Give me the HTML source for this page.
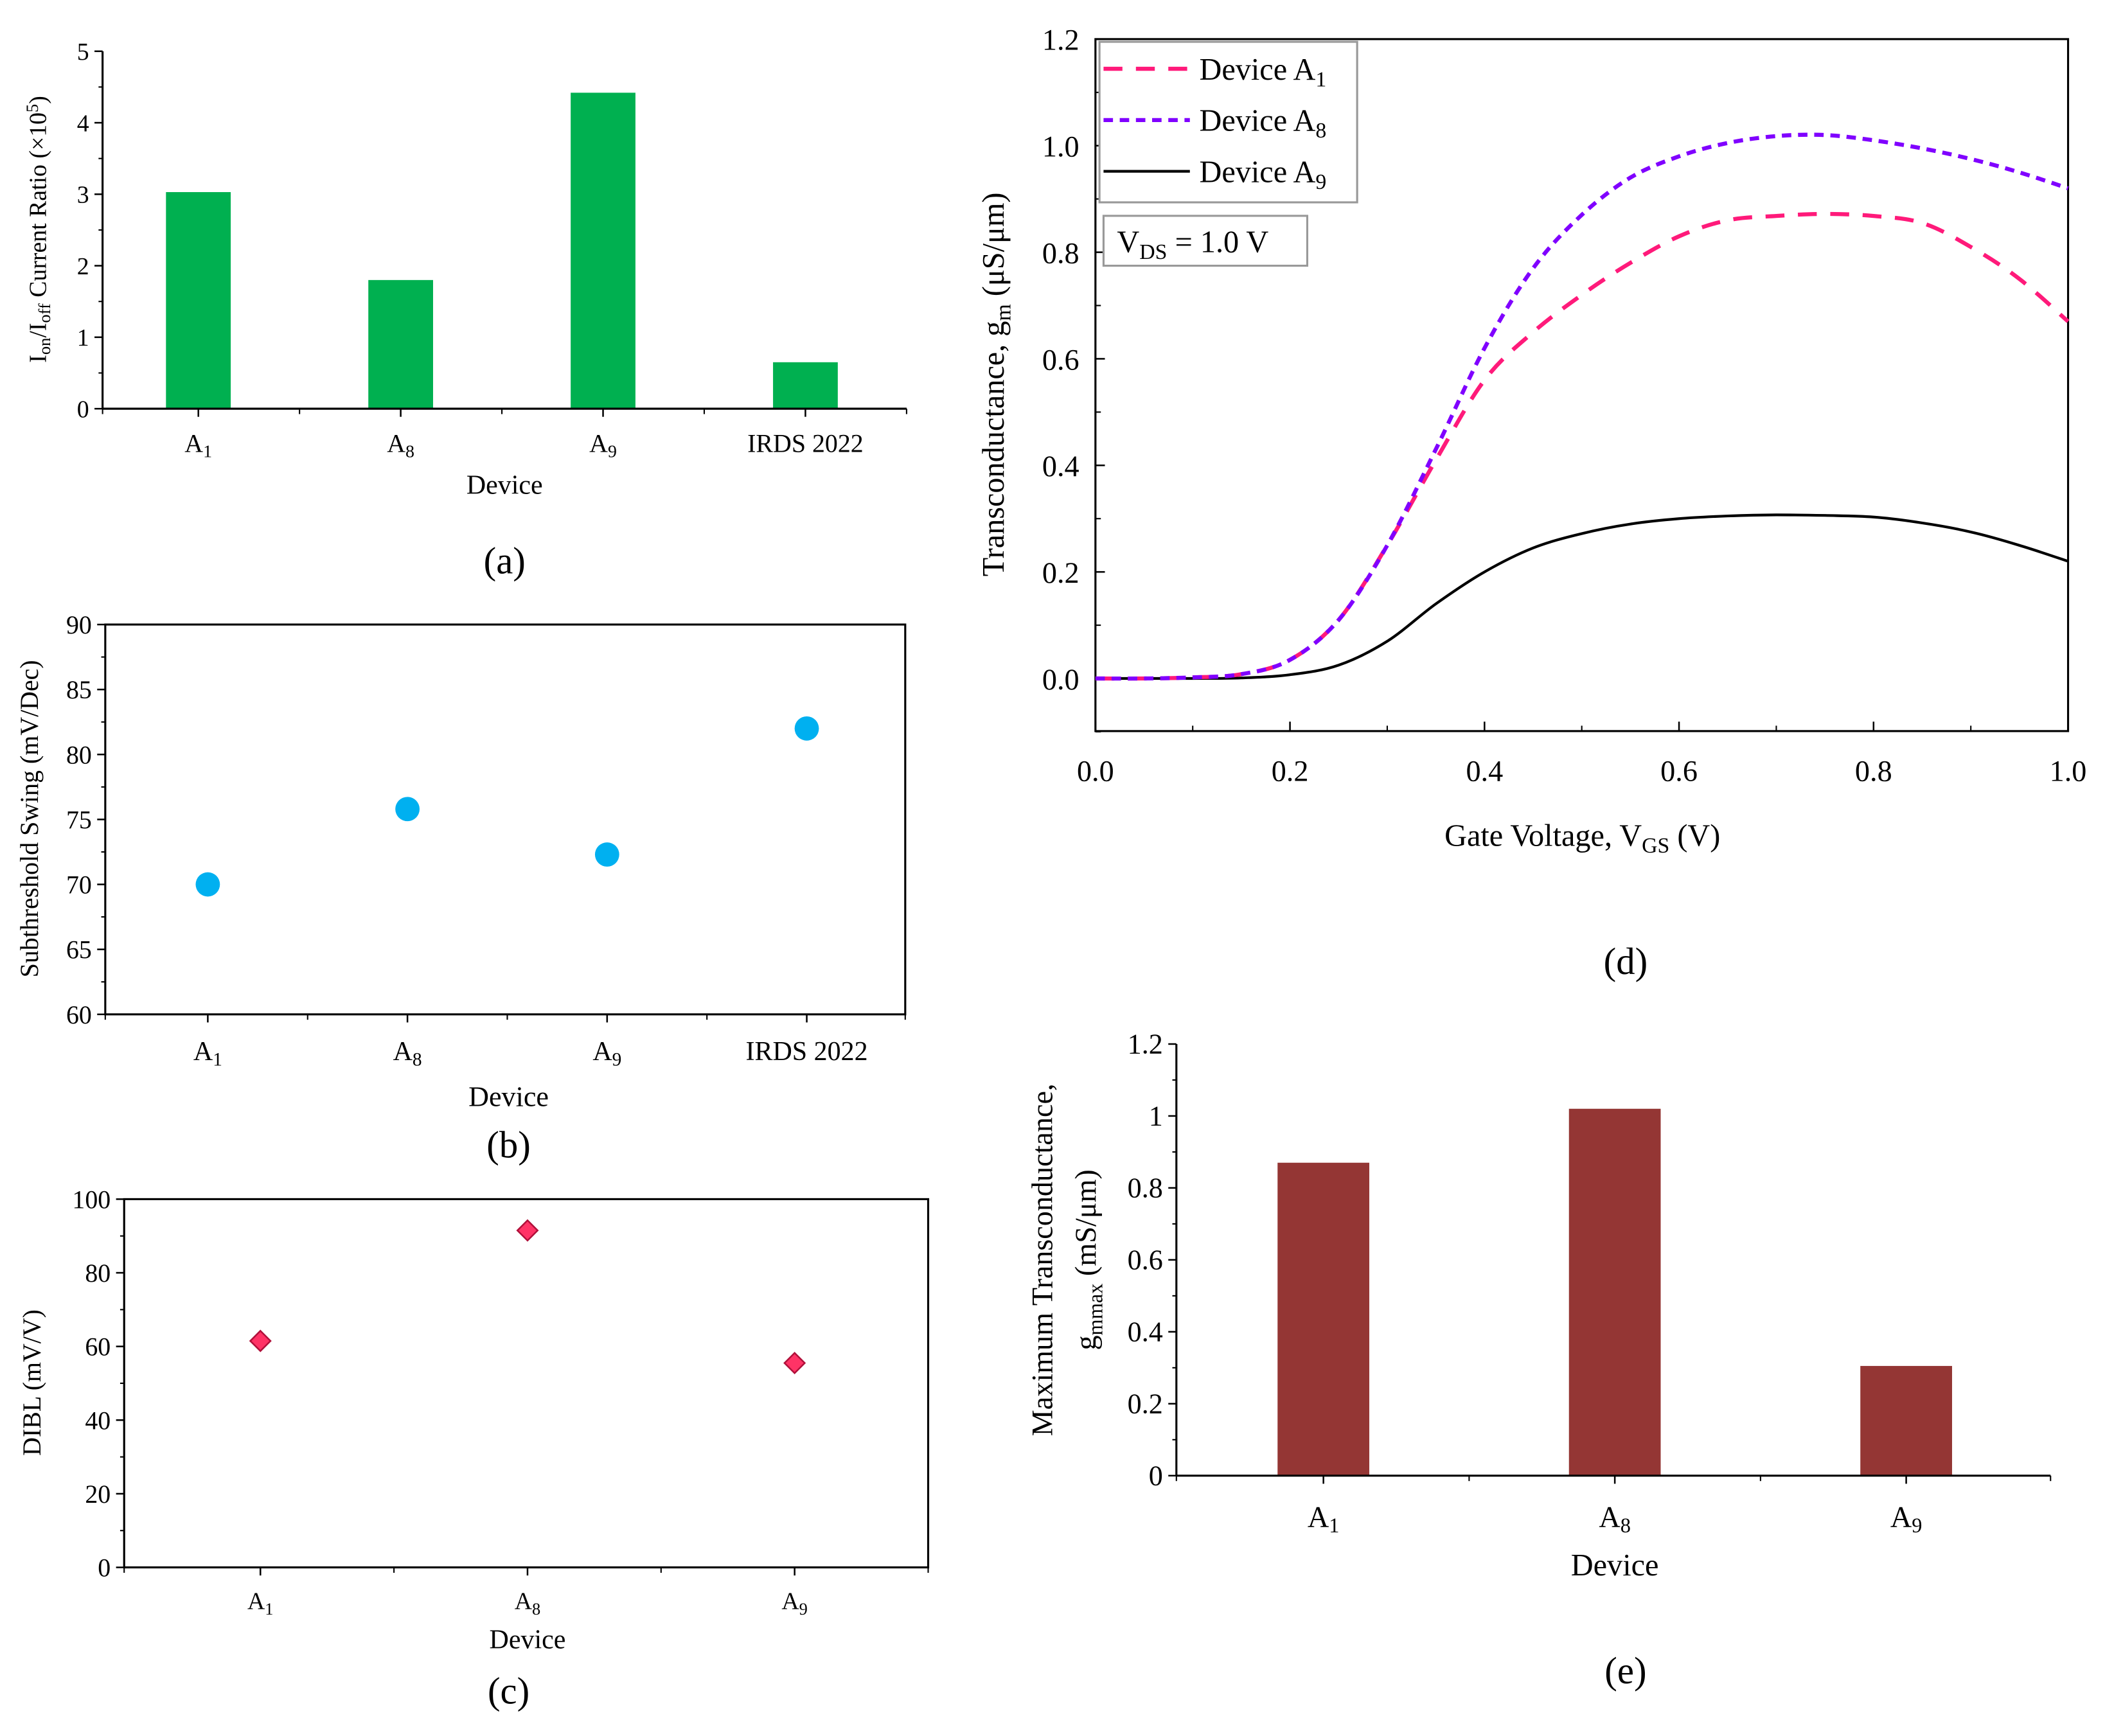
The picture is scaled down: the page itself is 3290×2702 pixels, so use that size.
<!DOCTYPE html>
<html><head><meta charset="utf-8"><style>
html,body{margin:0;padding:0;background:#fff}
svg{display:block;font-family:"Liberation Serif",serif}
</style></head><body>
<svg id="fig" xmlns="http://www.w3.org/2000/svg" width="3290" height="2702" viewBox="0 0 1567 1287">
<rect width="1567" height="1287" fill="#fff"/>
<g id="pa"></g>
<g id="pb"></g>
<g id="pc"></g>
<g id="pd"></g>
<g id="pe"></g>
</svg>
<script>
// ---- data ----
const devicesABC = ["A1","A8","A9","IRDS 2022"];
const ratioValues = [3.03, 1.8, 4.42, 0.65];
const ssValues = [70, 75.8, 72.3, 82];
const diblDevices = ["A1","A8","A9"];
const diblValues = [61.5, 91.5, 55.5];
const vgs = [0,0.05,0.1,0.15,0.2,0.25,0.3,0.35,0.4,0.45,0.5,0.55,0.6,0.65,0.7,0.75,0.8,0.85,0.9,0.95,1.0];
const gmA1 = [0,0,0.002,0.008,0.035,0.11,0.25,0.41,0.56,0.65,0.72,0.78,0.83,0.86,0.868,0.872,0.868,0.855,0.81,0.75,0.67];
const gmA8 = [0,0,0.002,0.008,0.035,0.11,0.25,0.43,0.62,0.77,0.87,0.94,0.98,1.005,1.018,1.02,1.01,0.995,0.975,0.95,0.92];
const gmA9 = [0,0,0,0.001,0.007,0.025,0.07,0.14,0.2,0.245,0.272,0.29,0.3,0.305,0.307,0.306,0.303,0.292,0.275,0.25,0.22];
const gmmaxDevices = ["A1","A8","A9"];
const gmmaxValues = [0.87, 1.02, 0.305];
const ticksA = [0,1,2,3,4,5];
const ticksB = [60,65,70,75,80,85,90];
const ticksC = [0,20,40,60,80,100];
const ticksDy = [0,0.2,0.4,0.6,0.8,1.0,1.2];
const ticksDx = [0,0.2,0.4,0.6,0.8,1.0];
const ticksE = [0,0.2,0.4,0.6,0.8,1,1.2];

const NS="http://www.w3.org/2000/svg";
function mk(parent,tag,attrs,text){const e=document.createElementNS(NS,tag);for(const k in attrs)e.setAttribute(k,attrs[k]);if(text!==undefined)e.innerHTML=text;parent.appendChild(e);return e;}
function lin(d0,d1,r0,r1){return v=>r0+(v-d0)*(r1-r0)/(d1-d0);}
function devLabel(s){const m=s.match(/^A(\d)$/);return m?`A<tspan font-size="0.7em" dy="4">${m[1]}</tspan>`:s;}
function smooth(pts){let d='M'+pts[0][0].toFixed(1)+','+pts[0][1].toFixed(1);
  for(let i=0;i<pts.length-1;i++){const p0=pts[Math.max(0,i-1)],p1=pts[i],p2=pts[i+1],p3=pts[Math.min(pts.length-1,i+2)];
    const c1=[p1[0]+(p2[0]-p0[0])/6,p1[1]+(p2[1]-p0[1])/6],c2=[p2[0]-(p3[0]-p1[0])/6,p2[1]-(p3[1]-p1[1])/6];
    d+=` C${c1[0].toFixed(1)},${c1[1].toFixed(1)} ${c2[0].toFixed(1)},${c2[1].toFixed(1)} ${p2[0].toFixed(1)},${p2[1].toFixed(1)}`;}
  return d;}

function frame(g,x0,x1,y0,y1,full){
  if(full){const r=mk(g,'rect',{x:x0,y:y0,width:x1-x0,height:y1-y0,fill:'none',stroke:'#000','stroke-width':1.5});
  }
  else{mk(g,'line',{x1:x0,y1:y0,x2:x0,y2:y1,stroke:'#000','stroke-width':1.5});
  mk(g,'line',{x1:x0,y1:y1,x2:x1,y2:y1,stroke:'#000','stroke-width':1.5});}
}
function yTicks(g,ticks,y,x0,fs,fmt,minor){
  ticks.forEach((t,i)=>{const yy=y(t);mk(g,'line',{x1:x0-6,y1:yy,x2:x0,y2:yy,stroke:'#000','stroke-width':1.2});
    const tx=mk(g,'text',{x:x0-10,y:yy+fs*0.35,'font-size':fs,'text-anchor':'end'},fmt(t));
    
    if(minor&&i<ticks.length-1){const ym=y((t+ticks[i+1])/2);mk(g,'line',{x1:x0-3,y1:ym,x2:x0,y2:ym,stroke:'#000','stroke-width':1});}
  });
}
function xCat(g,cats,xs,y1,ly,fs,x0,x1){
  cats.forEach((c,i)=>{mk(g,'line',{x1:xs[i],y1:y1,x2:xs[i],y2:y1+6,stroke:'#000','stroke-width':1.2});
    const t=mk(g,'text',{x:xs[i],y:ly,'font-size':fs,'text-anchor':'middle'},devLabel(c));
    
    if(i<cats.length-1){const xm=(xs[i]+xs[i+1])/2;mk(g,'line',{x1:xm,y1:y1,x2:xm,y2:y1+4,stroke:'#000','stroke-width':1});}
  });
  mk(g,'line',{x1:x0,y1:y1,x2:x0,y2:y1+4,stroke:'#000','stroke-width':1});
  mk(g,'line',{x1:x1,y1:y1,x2:x1,y2:y1+4,stroke:'#000','stroke-width':1});
}
function txt(g,name,x,y,fs,s,rot){const a={x:x,y:y,'font-size':fs,'text-anchor':'middle'};if(rot)a.transform=`rotate(-90 ${x} ${y})`;
  const t=mk(g,'text',a,s);return t;}

// ---- panel a ----
(function(){const g=document.getElementById('pa');const x0=76,x1=672,y0=38,y1=303;
  const y=lin(0,5,y1,y0);const xs=devicesABC.map((d,i)=>147+i*150);
  ratioValues.forEach((v,i)=>{const r=mk(g,'rect',{x:xs[i]-24,y:y(v),width:48,height:y1-y(v),fill:'#00B050'});
    });
  frame(g,x0,x1,y0,y1,false);
  yTicks(g,ticksA,y,x0,18,t=>t,true);
  xCat(g,devicesABC,xs,y1,335,19,x0,x1);
  txt(g,'x-axis-title',374,366,20,'Device');
  txt(g,'y-axis-title',34,170,18,'I<tspan font-size="0.7em" dy="3">on</tspan><tspan dy="-3">/I</tspan><tspan font-size="0.7em" dy="3">off</tspan><tspan dy="-3"> Current Ratio (×10</tspan><tspan font-size="0.7em" dy="-6">5</tspan><tspan dy="6">)</tspan>',true);
  txt(g,'panel-label-a',374,425,28,'(a)');
})();
// ---- panel b ----
(function(){const g=document.getElementById('pb');const x0=78,x1=671,y0=463,y1=752;
  const y=lin(60,90,y1,y0);const xs=devicesABC.map((d,i)=>154+i*148);
  frame(g,x0,x1,y0,y1,true);
  ssValues.forEach((v,i)=>{const c=mk(g,'circle',{cx:xs[i],cy:y(v),r:9,fill:'#00B0F0'});
    });
  yTicks(g,ticksB,y,x0,19,t=>t,true);
  xCat(g,devicesABC,xs,y1,786,20,x0,x1);
  txt(g,'x-axis-title',377,820,21,'Device');
  txt(g,'y-axis-title',28,607,19,'Subthreshold Swing (mV/Dec)',true);
  txt(g,'panel-label-b',377,858,28,'(b)');
})();
// ---- panel c ----
(function(){const g=document.getElementById('pc');const x0=92,x1=688,y0=889,y1=1162;
  const y=lin(0,100,y1,y0);const xs=diblDevices.map((d,i)=>193+i*198);
  frame(g,x0,x1,y0,y1,true);
  diblValues.forEach((v,i)=>{const cx=xs[i],cy=y(v),s=7.5;
    const p=mk(g,'polygon',{points:`${cx},${cy-s} ${cx+s},${cy} ${cx},${cy+s} ${cx-s},${cy}`,fill:'#FF3366',stroke:'#B0103A','stroke-width':1.2});
    });
  yTicks(g,ticksC,y,x0,19,t=>t,true);
  xCat(g,diblDevices,xs,y1,1193,18,x0,x1);
  txt(g,'x-axis-title',391,1222,20,'Device');
  txt(g,'y-axis-title',30,1025,19,'DIBL (mV/V)',true);
  txt(g,'panel-label-c',377,1263,28,'(c)');
})();
// ---- panel d ----
(function(){const g=document.getElementById('pd');const x0=812,x1=1533,y0=29,y1=542;
  const x=lin(0,1,x0,x1);const y=lin(0,1.2,503,y0);
  frame(g,x0,x1,y0,y1,true);
  ticksDy.forEach((t,i)=>{const yy=y(t);mk(g,'line',{x1:x0,y1:yy,x2:x0+7,y2:yy,stroke:'#000','stroke-width':1.2});
    mk(g,'line',{x1:x0,y1:y(t+0.1),x2:x0+4,y2:y(t+0.1),stroke:'#000','stroke-width':1});
    const tt=mk(g,'text',{x:x0-12,y:yy+8,'font-size':22,'text-anchor':'end'},t.toFixed(1));
    });
  mk(g,'line',{x1:x0,y1:y(-0.1),x2:x0+4,y2:y(-0.1),stroke:'#000','stroke-width':1});
  ticksDx.forEach((t,i)=>{const xx=x(t);mk(g,'line',{x1:xx,y1:y1,x2:xx,y2:y1-7,stroke:'#000','stroke-width':1.2});
    if(i<ticksDx.length-1)mk(g,'line',{x1:x(t+0.1),y1:y1,x2:x(t+0.1),y2:y1-4,stroke:'#000','stroke-width':1});
    const tt=mk(g,'text',{x:xx,y:579,'font-size':22,'text-anchor':'middle'},t.toFixed(1));
    });
  const series=[[gmA9,'#000','none','series-a9'],[gmA1,'#FF1A7A','14 10','series-a1'],[gmA8,'#8000FF','7 5','series-a8']];
  series.forEach(s=>{const pts=vgs.map((v,i)=>[x(v),y(s[0][i])]);
    const p=mk(g,'path',{d:smooth(pts),fill:'none',stroke:s[1],'stroke-width':s[1]=='#000'?2:3,'stroke-dasharray':s[2]});
    });
  const lg=mk(g,'g',{});
  mk(lg,'rect',{x:815,y:31,width:191,height:119,fill:'#fff',stroke:'#999','stroke-width':1.5});
  [['#FF1A7A','14 10',3,'1'],['#8000FF','7 5',3,'8'],['#000','none',2,'9']].forEach((e,i)=>{const yy=51+i*38;
    const le=mk(lg,'g',{});
    mk(le,'line',{x1:818,y1:yy,x2:882,y2:yy,stroke:e[0],'stroke-width':e[2],'stroke-dasharray':e[1]});
    mk(le,'text',{x:889,y:yy+8,'font-size':23},`Device A<tspan font-size="0.7em" dy="5">${e[3]}</tspan>`);});
  const vb=mk(g,'g',{});
  mk(vb,'rect',{x:818,y:160,width:151,height:37,fill:'#fff',stroke:'#999','stroke-width':1.5});
  mk(vb,'text',{x:828,y:187,'font-size':23},'V<tspan font-size="0.7em" dy="5">DS</tspan><tspan dy="-5"> = 1.0 V</tspan>');
  txt(g,'x-axis-title',1173,627,23,'Gate Voltage, V<tspan font-size="0.7em" dy="5">GS</tspan><tspan dy="-5"> (V)</tspan>');
  txt(g,'y-axis-title',744,285,23,'Transconductance, g<tspan font-size="0.7em" dy="5">m</tspan><tspan dy="-5"> (μS/μm)</tspan>',true);
  txt(g,'panel-label-d',1205,722,28,'(d)');
})();
// ---- panel e ----
(function(){const g=document.getElementById('pe');const x0=872,x1=1520,y0=774,y1=1094;
  const y=lin(0,1.2,y1,y0);const xs=gmmaxDevices.map((d,i)=>981+i*216);
  gmmaxValues.forEach((v,i)=>{const r=mk(g,'rect',{x:xs[i]-34,y:y(v),width:68,height:y1-y(v),fill:'#943634'});
    });
  frame(g,x0,x1,y0,y1,false);
  ticksE.forEach((t,i)=>{const yy=y(t);mk(g,'line',{x1:x0-6,y1:yy,x2:x0,y2:yy,stroke:'#000','stroke-width':1.2});
    if(i<ticksE.length-1)mk(g,'line',{x1:x0-3,y1:y(t+0.1),x2:x0,y2:y(t+0.1),stroke:'#000','stroke-width':1});
    const tt=mk(g,'text',{x:x0-10,y:yy+7,'font-size':21,'text-anchor':'end'},String(t));
    });
  xCat(g,gmmaxDevices,xs,y1,1132,22,x0,x1);
  txt(g,'x-axis-title',1197,1168,23,'Device');
  txt(g,'y-axis-title',780,934,22,'Maximum Transconductance,',true);
  txt(g,'y-axis-title-line2',812,934,22,'g<tspan font-size="0.7em" dy="5">mmax</tspan><tspan dy="-5"> (mS/μm)</tspan>',true);
  txt(g,'panel-label-e',1205,1248,28,'(e)');
})();
</script>
</body></html>
